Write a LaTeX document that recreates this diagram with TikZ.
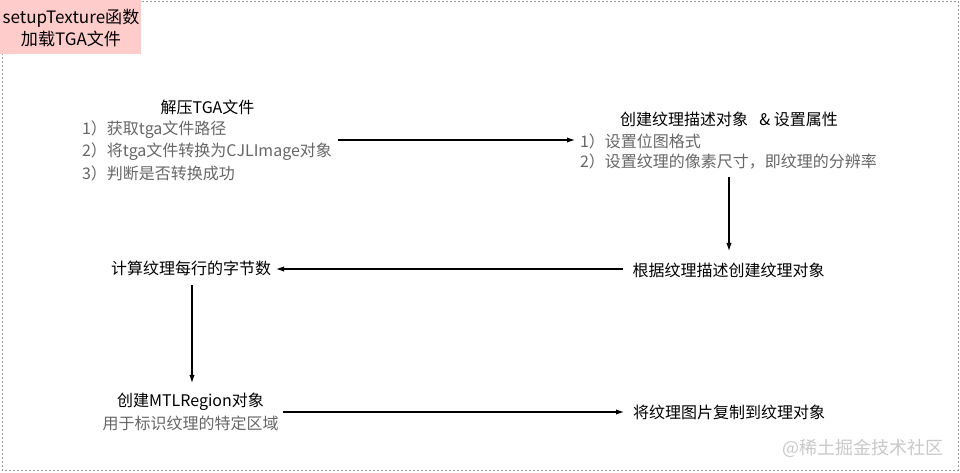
\documentclass[tikz,border=0pt]{standalone}
\usepackage{fontspec}
\setmainfont{Noto Sans CJK SC}
\usetikzlibrary{arrows.meta}
\definecolor{pinkfill}{HTML}{FFCCCC}
\definecolor{graytxt}{HTML}{666666}
\definecolor{framegray}{HTML}{999999}
\definecolor{wmgray}{HTML}{C8C8C8}
\begin{document}
\begin{tikzpicture}[x=0.75pt,y=-0.75pt,
  every node/.style={inner sep=0pt,outer sep=0pt},
  title/.style={font=\fontsize{12pt}{14pt}\selectfont,text=black},
  sub/.style={font=\fontsize{12pt}{14pt}\selectfont,text=graytxt},
  conn/.style={draw=black,line width=0.8pt,-{Latex[length=6pt,width=4pt]}}]
\useasboundingbox (0,0) rectangle (960,473);
% frame
\draw[framegray,line width=0.6pt,dash pattern=on 1.2pt off 1.8pt] (2,1) rectangle (958,470);
\fill[pinkfill] (0,0) rectangle (141,54);
\node[font=\fontsize{12.8pt}{15pt}\selectfont,align=center] (hdr) at (71,28) {setupTexture函数\\[1pt]加载TGA文件};
% node 1
\node[title] (n1) at (207.5,107) {解压TGA文件};
\node[sub,anchor=west] (n1a) at (82,130) {1）获取tga文件路径};
\node[sub,anchor=west] (n1b) at (82,152) {2）将tga文件转换为CJLImage对象};
\node[sub,anchor=west] (n1c) at (82,173) {3）判断是否转换成功};
% node 2
\node[title] (n2) at (729,119) {创建纹理描述对象\hspace{0.7em}\& 设置属性};
\node[sub,anchor=west] (n2a) at (580,141) {1）设置位图格式};
\node[sub,anchor=west] (n2b) at (580,162) {2）设置纹理的像素尺寸，即纹理的分辨率};
% node 3
\node[title] (n3) at (728.5,270) {根据纹理描述创建纹理对象};
% node 4
\node[title] (n4) at (191,268) {计算纹理每行的字节数};
% node 5
\node[title] (n5) at (190.5,402) {创建MTLRegion对象};
\node[sub] (n5a) at (190.5,423) {用于标识纹理的特定区域};
% node 6
\node[title] (n6) at (729,412) {将纹理图片复制到纹理对象};
% watermark
\node[font=\fontsize{13.5pt}{15pt}\selectfont,text=wmgray] (wm) at (863,448) {@稀土掘金技术社区};
% connectors
\coordinate (a1s) at (338,140);
\coordinate (a1e) at (575,140);
\draw[conn] (a1s) -- (a1e);
\coordinate (a2s) at (729,177);
\coordinate (a2e) at (729,251);
\draw[conn] (a2s) -- (a2e);
\coordinate (a3s) at (623,269);
\coordinate (a3e) at (276,269);
\draw[conn] (a3s) -- (a3e);
\coordinate (a4s) at (192,285);
\coordinate (a4e) at (192,383);
\draw[conn] (a4s) -- (a4e);
\coordinate (a5s) at (283,412);
\coordinate (a5e) at (624,412);
\draw[conn] (a5s) -- (a5e);
\end{tikzpicture}
\end{document}
